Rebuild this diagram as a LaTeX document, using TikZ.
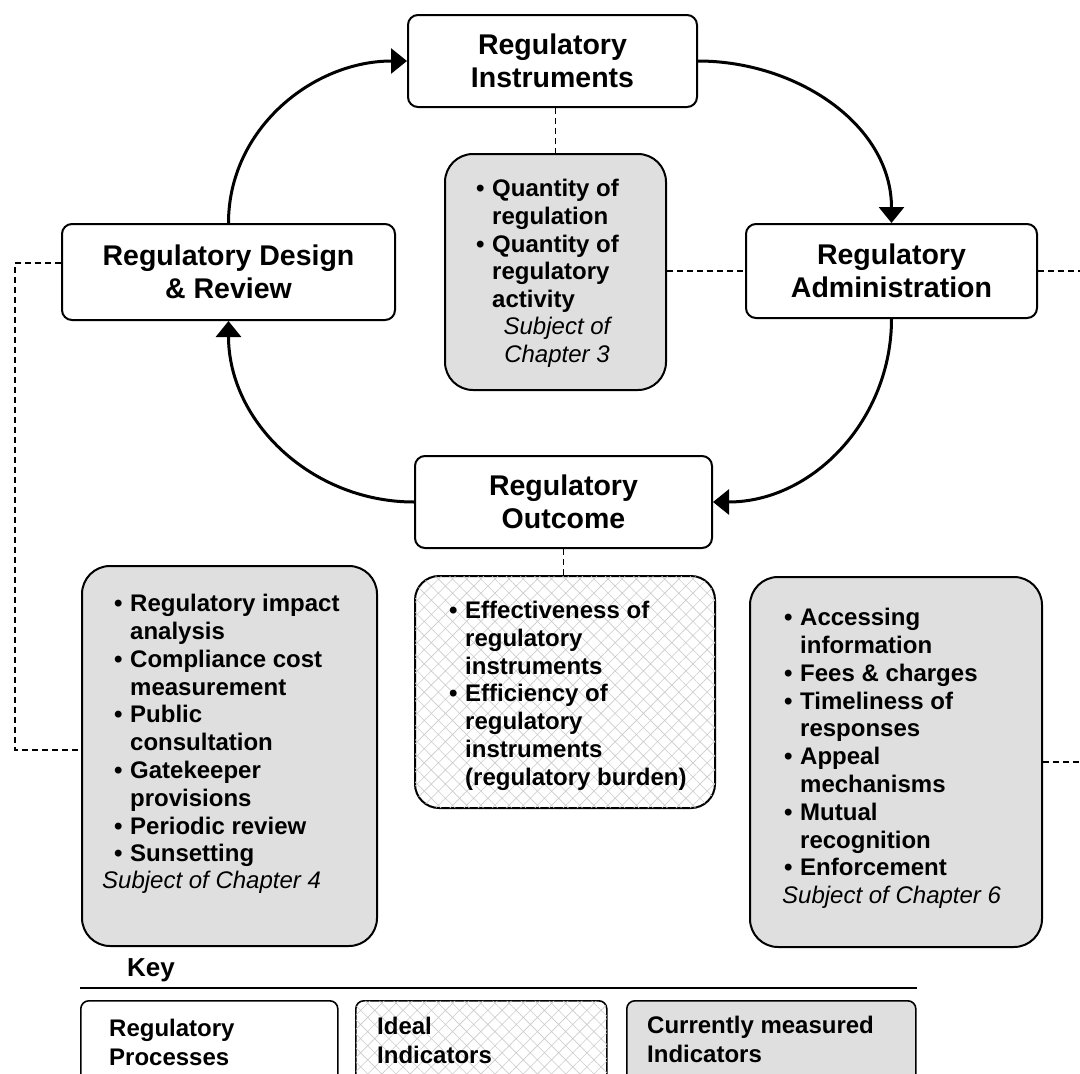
\documentclass[tikz,border=0pt]{standalone}
\usepackage{fontspec}
\setmainfont{Liberation Sans}
\usetikzlibrary{arrows.meta,patterns.meta}
\begin{document}
\begin{tikzpicture}[x=1pt,y=-1pt,
  proc/.style={draw=black,line width=2pt,rounded corners=10pt,fill=white,align=center,
    font=\fontsize{28.5}{33}\selectfont\bfseries,inner sep=0pt},
  graybox/.style={draw=black,line width=2pt,rounded corners=28pt,fill=gray!25,inner sep=0pt},
  hatchbox/.style={draw=black,line width=2pt,rounded corners=24pt,fill=white,inner sep=0pt,
    postaction={pattern={Hatch[angle=45,distance=10pt,line width=0.6pt]},pattern color=black!20}},
  items/.style={anchor=north west,align=left,inner sep=0pt,font=\fontsize{24}{27.8}\selectfont\bfseries},
  subj/.style={inner sep=0pt,font=\fontsize{24}{27.8}\selectfont\itshape},
  flow/.style={line width=3pt,-{Triangle[length=16pt,width=25pt]}},
  link/.style={line width=1.3pt,dash pattern=on 6pt off 4pt},
  keybox/.style={draw=black,line width=1.6pt,rounded corners=8pt,inner sep=0pt,anchor=north west},
  keytxt/.style={anchor=north west,align=left,inner sep=0pt,font=\fontsize{24}{28.5}\selectfont\bfseries}]
\useasboundingbox (0,0) rectangle (1080,1074);
\clip (0,0) rectangle (1080,1074);
\newcommand{\bl}{\makebox[16pt][l]{\textbullet}}
\newcommand{\ind}{\hspace*{16pt}}

% process boxes
\node[proc,minimum width=289pt,minimum height=92pt] (ins) at (552.5,61) {Regulatory\\Instruments};
\node[proc,minimum width=333pt,minimum height=96pt] (des) at (228.5,272) {Regulatory Design\\\& Review};
\node[proc,minimum width=291pt,minimum height=94pt] (adm) at (891.5,271) {Regulatory\\Administration};
\node[proc,minimum width=297pt,minimum height=92pt] (out) at (563.5,502) {Regulatory\\Outcome};

% indicator boxes
\node[graybox,minimum width=221pt,minimum height=236pt] (qb) at (555.5,272) {};
\node[items] (qbt) at (476,179) {\bl Quantity of\\\ind regulation\\\bl Quantity of\\\ind regulatory\\\ind activity};
\node[subj,align=center,anchor=north] (qbs) at (557,317) {Subject of\\Chapter 3};

\node[graybox,minimum width=295pt,minimum height=380pt] (lb) at (229.5,756) {};
\node[items] (lbt) at (114,594) {\bl Regulatory impact\\\ind analysis\\\bl Compliance cost\\\ind measurement\\\bl Public\\\ind consultation\\\bl Gatekeeper\\\ind provisions\\\bl Periodic review\\\bl Sunsetting};
\node[subj,anchor=west] (lbs) at (102,882) {Subject of Chapter 4};

\node[graybox,minimum width=292pt,minimum height=370pt] (rb) at (896,762) {};
\node[items] (rbt) at (784,608) {\bl Accessing\\\ind information\\\bl Fees \& charges\\\bl Timeliness of\\\ind responses\\\bl Appeal\\\ind mechanisms\\\bl Mutual\\\ind recognition\\\bl Enforcement};
\node[subj,anchor=west] (rbs) at (782,897) {Subject of Chapter 6};

\node[hatchbox,minimum width=300pt,minimum height=232pt] (hb) at (565,692) {};
\node[items] (hbt) at (449,601) {\bl Effectiveness of\\\ind regulatory\\\ind instruments\\\bl Efficiency of\\\ind regulatory\\\ind instruments\\\ind (regulatory burden)};

% cycle arrows
\draw[flow] (des.north) to[out=90,in=180] (ins.west);
\draw[flow] (ins.east) to[out=0,in=90] (adm.north);
\draw[flow] (adm.south) to[out=-90,in=0] (out.east);
\draw[flow] (out.west) to[out=180,in=-90] (des.south);

% dashed links
\coordinate (e1) at (1080,271);
\coordinate (e2) at (1080,762);
\coordinate (c1) at (15,263);
\coordinate (c2) at (15,750);
\draw[link] (ins.south -| qb.north) -- (qb.north);
\draw[link] (out.south) -- (out.south |- hb.north);
\draw[link] (qb.east |- adm.west) -- (adm.west);
\draw[link] (adm.east) -- (e1);
\draw[link] (rb.east) -- (e2);
\draw[link] (des.west |- c1) -- (c1) -- (c2) -- (lb.west |- c2);

% key
\node[anchor=west,inner sep=0pt,font=\fontsize{26}{30}\selectfont\bfseries] (key) at (127,970) {Key};
\coordinate (kl) at (80,988);
\coordinate (kr) at (917,988);
\draw[line width=1.6pt] (kl) -- (kr);
\node[keybox,fill=white,minimum width=257pt,minimum height=100pt] (k1) at (80,1000) {};
\node[keybox,fill=white,minimum width=251pt,minimum height=100pt,
  postaction={pattern={Hatch[angle=45,distance=10pt,line width=0.6pt]},pattern color=black!20}] (k2) at (355,1000) {};
\node[keybox,fill=gray!25,minimum width=289pt,minimum height=100pt] (k3) at (626,1000) {};
\node[keytxt] (k1t) at (109,1019) {Regulatory\\Processes};
\node[keytxt] (k2t) at (377,1017) {Ideal\\Indicators};
\node[keytxt] (k3t) at (647,1016) {Currently measured\\Indicators};
\end{tikzpicture}
\end{document}
